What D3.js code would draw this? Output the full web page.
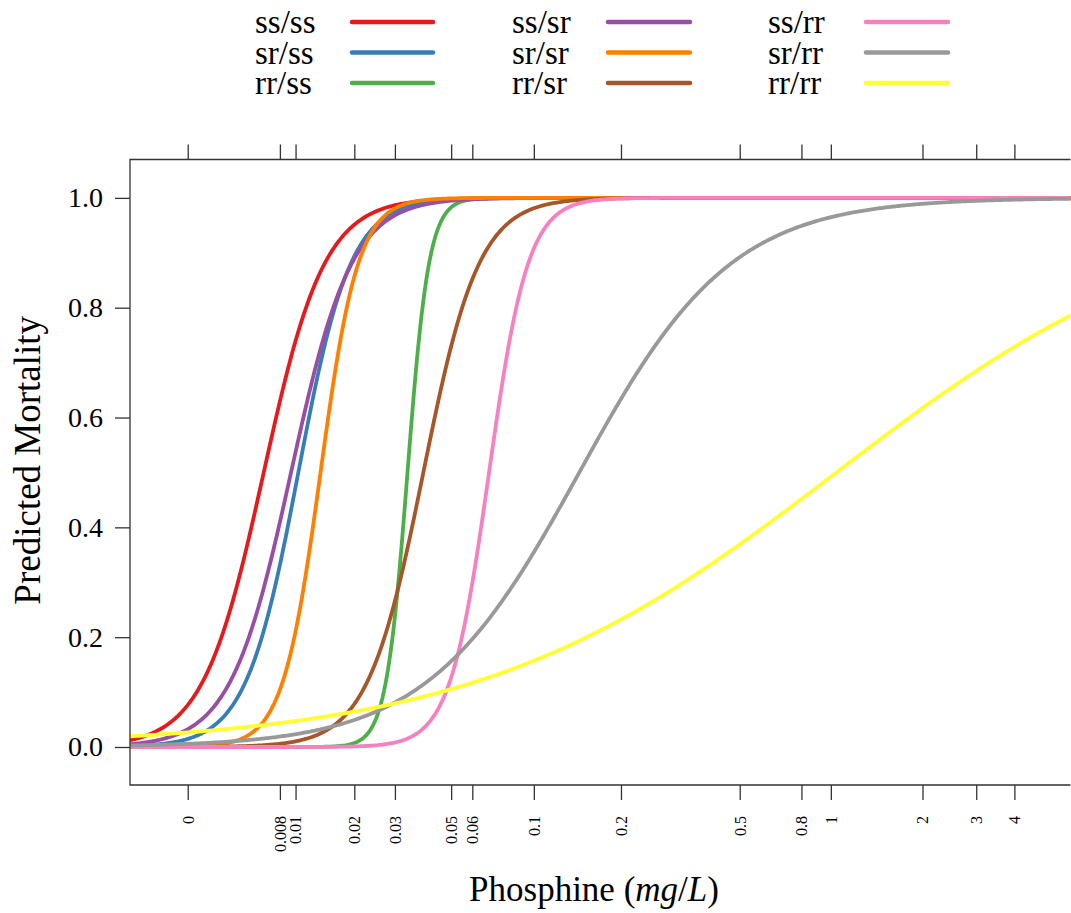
<!DOCTYPE html>
<html>
<head>
<meta charset="utf-8">
<script src="https://cdn.jsdelivr.net/npm/d3@7"></script>
<style>
  html, body { margin: 0; padding: 0; background: #fff; }
  svg { display: block; }
  text { font-family: "Liberation Serif", "Times New Roman", serif; fill: #000; }
</style>
</head>
<body>
<svg id="chart" width="1071" height="913"></svg>
<script>
// ---- data ----
const categories = ["ss/ss", "sr/ss", "rr/ss", "ss/sr", "sr/sr", "rr/sr", "ss/rr", "sr/rr", "rr/rr"];
// fitted LC50 (mg/L) and logistic slope (per log10 unit of dose + offset) for each genotype
const lc50  = [0.00617, 0.01038, 0.03377, 0.00940, 0.01372, 0.03906, 0.06913, 0.14404, 1.04308];
const slope = [10.04, 11.64, 28.35, 10.07, 16.2, 10.94, 15.62, 4.03, 1.70];
const doseOffset = 0.008;
const colors = ["#E41A1C", "#377EB8", "#4DAF4A", "#984EA3", "#FF7F00", "#A65628", "#F781BF", "#999999", "#FFFF33"];
const xTickValues = [0, 0.008, 0.01, 0.02, 0.03, 0.05, 0.06, 0.1, 0.2, 0.5, 0.8, 1, 2, 3, 4];
const xTickLabels = ["0", "0.008", "0.01", "0.02", "0.03", "0.05", "0.06", "0.1", "0.2", "0.5", "0.8", "1", "2", "3", "4"];
const yTickValues = [0, 0.2, 0.4, 0.6, 0.8, 1.0];
const yTickLabels = ["0.0", "0.2", "0.4", "0.6", "0.8", "1.0"];
const xDomain = [-0.002817, 6.1267];
const yDomain = [-0.0692, 1.0699];

// ---- layout ----
const plot = { left: 130, right: 1070.5, top: 159.5, bottom: 785 };
const svg = d3.select("#chart");

const xs = d3.scaleLog()
  .domain([xDomain[0] + doseOffset, xDomain[1] + doseOffset])
  .range([plot.left, 1071]);
const x = d => xs(d + doseOffset);
const y = d3.scaleLinear().domain(yDomain).range([plot.bottom, plot.top]);

// clip
svg.append("defs").append("clipPath").attr("id", "clip")
  .append("rect").attr("x", plot.left).attr("y", plot.top)
  .attr("width", plot.right - plot.left).attr("height", plot.bottom - plot.top);

// curves
const tMin = Math.log10(xDomain[0] + doseOffset), tMax = Math.log10(xDomain[1] + doseOffset);
const nS = 600;
const line = d3.line().x(d => x(d[0])).y(d => y(d[1]));
const gCurves = svg.append("g").attr("clip-path", "url(#clip)");
categories.forEach((c, i) => {
  const tm = Math.log10(lc50[i] + doseOffset);
  const pts = d3.range(nS + 1).map(k => {
    const t = tMin + (tMax - tMin) * k / nS;
    const dose = Math.pow(10, t) - doseOffset;
    const p = 1 / (1 + Math.exp(-slope[i] * (t - tm)));
    return [dose, p];
  });
  gCurves.append("path").datum(pts).attr("d", line)
    .attr("fill", "none").attr("stroke", colors[i])
    .attr("stroke-width", 3.8).attr("stroke-linejoin", "round");
});

// box (left, top, bottom)
const boxColor = "#333";
svg.append("path")
  .attr("d", `M${plot.right},${plot.top}H${plot.left}V${plot.bottom}H${plot.right}`)
  .attr("fill", "none").attr("stroke", boxColor).attr("stroke-width", 1.3);

// bottom axis
const xAxisB = d3.axisBottom(xs).tickValues(xTickValues.map(v => v + doseOffset))
  .tickSize(15).tickFormat("");
const gxb = svg.append("g").attr("transform", `translate(0,${plot.bottom})`).call(xAxisB);
gxb.select(".domain").remove();
gxb.selectAll(".tick line").attr("stroke", boxColor).attr("stroke-width", 1.3);
gxb.selectAll(".tick").append("text")
  .attr("transform", "translate(0,31) rotate(-90)")
  .attr("text-anchor", "end").attr("dy", "0.33em")
  .style("font-size", "16px")
  .text((d, i) => xTickLabels[i]);

// top axis
const xAxisT = d3.axisTop(xs).tickValues(xTickValues.map(v => v + doseOffset))
  .tickSize(15).tickFormat("");
const gxt = svg.append("g").attr("transform", `translate(0,${plot.top})`).call(xAxisT);
gxt.select(".domain").remove();
gxt.selectAll(".tick line").attr("stroke", boxColor).attr("stroke-width", 1.3);

// left axis
const yAxis = d3.axisLeft(y).tickValues(yTickValues).tickSize(15).tickPadding(12)
  .tickFormat((d, i) => yTickLabels[i]);
const gy = svg.append("g").attr("transform", `translate(${plot.left},0)`).call(yAxis);
gy.select(".domain").remove();
gy.selectAll(".tick line").attr("stroke", boxColor).attr("stroke-width", 1.3);
gy.selectAll(".tick text").style("font-size", "28px")
  .style("font-family", "Liberation Serif, serif").attr("fill", "#000");

// axis titles
svg.append("text")
  .attr("transform", `translate(40,${(plot.top + plot.bottom) / 2 - 12}) rotate(-90)`)
  .attr("text-anchor", "middle").style("font-size", "37px")
  .text("Predicted Mortality");

const xt = svg.append("text").attr("x", 594).attr("y", 901)
  .attr("text-anchor", "middle").style("font-size", "35px");
xt.append("tspan").text("Phosphine (");
xt.append("tspan").style("font-style", "italic").text("mg");
xt.append("tspan").text("/");
xt.append("tspan").style("font-style", "italic").text("L");
xt.append("tspan").text(")");

// legend (column-wise, 3 per column)
const legCols = [255, 512, 768];
const legLineX = [[352, 433], [608, 690], [866, 948]];
const legRows = [22, 52.5, 83];
categories.forEach((c, i) => {
  const col = Math.floor(i / 3), row = i % 3;
  const g = svg.append("g");
  g.append("text").attr("x", legCols[col]).attr("y", legRows[row] + 11)
    .style("font-size", "33px").text(c);
  g.append("line")
    .attr("x1", legLineX[col][0]).attr("x2", legLineX[col][1])
    .attr("y1", legRows[row]).attr("y2", legRows[row])
    .attr("stroke", colors[i]).attr("stroke-width", 4.5).attr("stroke-linecap", "round");
});
</script>
</body>
</html>
